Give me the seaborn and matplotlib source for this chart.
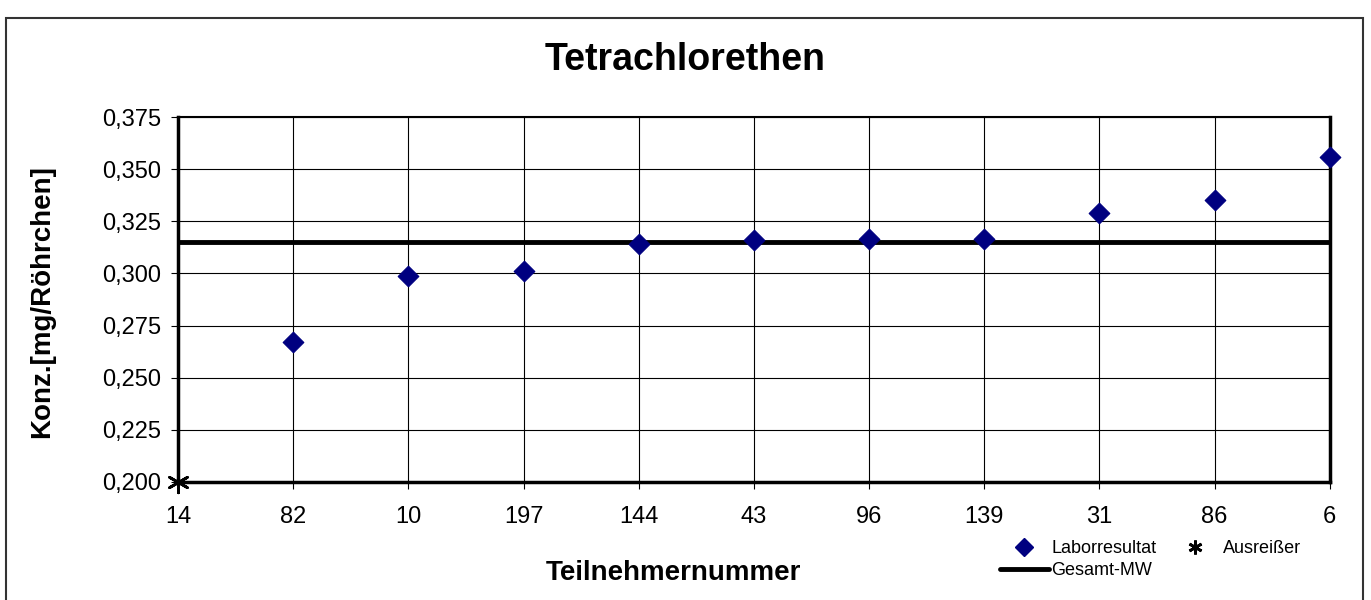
import pandas as pd
import numpy as np
import matplotlib
matplotlib.use('Agg')
import matplotlib.pyplot as plt
import seaborn as sns
from matplotlib.lines import Line2D
from matplotlib.patches import Rectangle

# Data
teilnehmer = ['14', '82', '10', '197', '144', '43', '96', '139', '31', '86', '6']
laborresultat = [np.nan, 0.267, 0.299, 0.301, 0.314, 0.316, 0.3165, 0.3165, 0.329, 0.335, 0.356]
ausreisser = [0.200, np.nan, np.nan, np.nan, np.nan, np.nan, np.nan, np.nan, np.nan, np.nan, np.nan]
gesamt_mw = 0.315
y_ticks = [0.200, 0.225, 0.250, 0.275, 0.300, 0.325, 0.350, 0.375]

df = pd.DataFrame({'Teilnehmer': teilnehmer,
                   'Laborresultat': laborresultat,
                   'Ausreisser': ausreisser})

sns.set_style('white')
plt.rcParams['font.family'] = ['Liberation Sans', 'DejaVu Sans']
plt.rcParams['text.color'] = 'black'
plt.rcParams['xtick.color'] = 'black'
plt.rcParams['ytick.color'] = 'black'
plt.rcParams['axes.labelcolor'] = 'black'

# Excel-style star marker (x with a vertical stroke)
star = (6, 2, 0)

fig = plt.figure(figsize=(13.71, 6), dpi=100)
ax = fig.add_axes([0.1298, 0.1967, 0.8402, 0.6083])

# Grid
for yt in y_ticks:
    ax.axhline(yt, color='black', lw=0.8, zorder=0)
for i in range(len(teilnehmer)):
    ax.axvline(i, color='black', lw=0.8, zorder=0)

# Mean line
ax.axhline(gesamt_mw, color='black', lw=3.5, zorder=2)

sns.scatterplot(data=df, x='Teilnehmer', y='Laborresultat', marker='D', s=110,
                color='#000080', edgecolor='#000080', ax=ax, zorder=3, clip_on=False)
sns.scatterplot(data=df, x='Teilnehmer', y='Ausreisser', marker=star, s=220,
                color='black', edgecolor='black', linewidth=2, ax=ax, zorder=4,
                clip_on=False)

ax.set_xlim(0, len(teilnehmer) - 1)
ax.set_ylim(0.200, 0.375)
ax.set_yticks(y_ticks)
ax.set_yticklabels([f'{v:.3f}'.replace('.', ',') for v in y_ticks], fontsize=17)
ax.set_xticks(range(len(teilnehmer)))
ax.set_xticklabels(teilnehmer, fontsize=17)
ax.tick_params(axis='both', direction='out', length=5, width=0.8, color='black',
               labelcolor='black', left=True, bottom=True)
ax.tick_params(axis='y', pad=7)
ax.tick_params(axis='x', pad=12)

for side in ['left', 'bottom', 'right']:
    ax.spines[side].set_linewidth(2.5)
    ax.spines[side].set_color('black')
ax.spines['top'].set_linewidth(1.5)
ax.spines['top'].set_color('black')

ax.set_xlabel('')
ax.set_ylabel('')
fig.text(0.0306, 0.497, 'Konz.[mg/Röhrchen]', ha='center', va='center', rotation=90,
         fontsize=20, fontweight='bold', color='black')
fig.text(0.491, 0.045, 'Teilnehmernummer', ha='center', va='center',
         fontsize=20, fontweight='bold', color='black')
fig.text(0.4996, 0.9, 'Tetrachlorethen', ha='center', va='center',
         fontsize=27, fontweight='bold', color='black')

handles = [
    Line2D([], [], marker='D', color='#000080', linestyle='none', markersize=9),
    Line2D([], [], color='black', lw=3.5),
    Line2D([], [], marker=star, color='black', linestyle='none', markersize=10,
           markeredgewidth=2),
]
labels = ['Laborresultat', 'Gesamt-MW', 'Ausreißer']
fig.legend(handles, labels, ncol=2, loc='upper left', bbox_to_anchor=(0.7294, 0.1),
           frameon=False, fontsize=13, handlelength=2.7, handletextpad=0.15,
           columnspacing=0.8, labelspacing=0.3, borderpad=0, borderaxespad=0)

# Outer border (open at the bottom, as in the reference)
fig.patches.append(Rectangle((6 / 1371, -0.02), 1357 / 1371, 1.005 - 9 / 600,
                             transform=fig.transFigure, fill=False,
                             edgecolor='#333333', lw=1.5))

fig.savefig('out.png', dpi=100)
